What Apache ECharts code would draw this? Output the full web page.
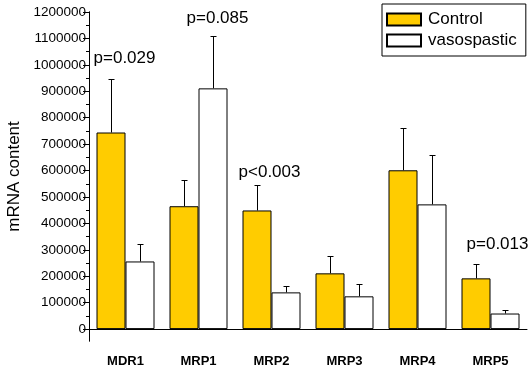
<!DOCTYPE html>
<html><head><meta charset="utf-8">
<script src="https://cdn.jsdelivr.net/npm/echarts@6/dist/echarts.min.js"></script>
<style>html,body{margin:0;padding:0;background:#fff}#c{width:532px;height:369px}</style>
</head><body><div id="c"></div>
<script>
const categories = ['MDR1', 'MRP1', 'MRP2', 'MRP3', 'MRP4', 'MRP5'];
const control = [744000, 465000, 449000, 211000, 601000, 192000];
const controlUpper = [945000, 563000, 544000, 275000, 760000, 245000];
const vaso = [256000, 911000, 139000, 124000, 472000, 59000];
const vasoUpper = [323000, 1108000, 165000, 169000, 659000, 71000];
const yTicks = [0, 100000, 200000, 300000, 400000, 500000, 600000, 700000, 800000, 900000, 1000000, 1100000, 1200000];
const yMinorTicks = [50000, 150000, 250000, 350000, 450000, 550000, 650000, 750000, 850000, 950000, 1050000, 1150000];
const pLabels = ['p=0.029', 'p=0.085', 'p<0.003', 'p=0.013'];
const pCats = ['MDR1', 'MRP1', 'MRP2', 'MRP5'];
const pValues = [1025000, 1177000, 594000, 322000];

const FONT = 'Liberation Sans, Arial, sans-serif';
const BAR_W = 29;
const pDx = [-1, 19, -2, 7];

const chart = echarts.init(document.getElementById('c'), null, {renderer: 'canvas'});

function errSeries(name, upper, base, offset) {
  return {
    type: 'custom', name: name + ' err', z: 1, silent: true,
    data: categories.map((c, i) => [i, base[i], upper[i]]),
    renderItem: function (params, api) {
      const p0 = api.coord([api.value(0), api.value(1)]);
      const p1 = api.coord([api.value(0), api.value(2)]);
      const x = Math.round(p0[0] + offset) + 0.5;
      const style = {stroke: '#000', lineWidth: 1};
      return {type: 'group', children: [
        {type: 'line', shape: {x1: x, y1: p0[1], x2: x, y2: Math.round(p1[1]) + 0.5}, style: style},
        {type: 'line', shape: {x1: x - 3, y1: Math.round(p1[1]) + 0.5, x2: x + 3, y2: Math.round(p1[1]) + 0.5}, style: style}
      ]};
    }
  };
}

const option = {
  animation: false,
  backgroundColor: '#fff',
  grid: {left: 89, right: 5, top: 12, bottom: 28, containLabel: false, outerBoundsMode: 'none'},
  legend: {
    orient: 'vertical', left: 382, top: 4,
    data: ['Control', 'vasospastic'],
    itemWidth: 34, itemHeight: 12, itemGap: 4,
    padding: [7, 9, 7, 4],
    borderColor: '#000', borderWidth: 1, borderRadius: 0,
    icon: 'rect',
    textStyle: {fontFamily: FONT, fontSize: 17, color: '#000', padding: [0, 0, 0, 2]}
  },
  xAxis: {
    type: 'category', data: categories,
    axisLine: {lineStyle: {color: '#000', width: 1}},
    axisTick: {show: false},
    axisLabel: {fontFamily: FONT, fontSize: 13, fontWeight: 'bold', color: '#000', margin: 14}
  },
  yAxis: [{
    type: 'value', min: -45000, max: 1200000,
    name: 'mRNA content', nameLocation: 'middle', nameRotate: 90, nameGap: 66,
    nameTextStyle: {fontFamily: FONT, fontSize: 17, color: '#000'},
    axisLine: {show: true, lineStyle: {color: '#000', width: 1}},
    axisTick: {show: true, length: 6, customValues: yTicks, lineStyle: {color: '#000'}},
    axisLabel: {customValues: yTicks, formatter: v => String(v), fontFamily: FONT, fontSize: 13.5, color: '#000', margin: 3},
    splitLine: {show: false}
  }, {
    type: 'value', min: -45000, max: 1200000, position: 'left',
    axisLine: {show: true, lineStyle: {color: '#000', width: 1}},
    axisTick: {show: true, length: 3, customValues: yMinorTicks, lineStyle: {color: '#000'}},
    axisLabel: {show: false},
    splitLine: {show: false}
  }],
  series: [
    {name: 'Control', type: 'bar', data: control, barWidth: BAR_W, barGap: '0%', z: 2,
     itemStyle: {color: '#FFCC00', borderColor: '#000', borderWidth: 1}},
    {name: 'vasospastic', type: 'bar', data: vaso, barWidth: BAR_W, barGap: '0%', z: 2,
     itemStyle: {color: '#FFFFFF', borderColor: '#000', borderWidth: 1}},
    errSeries('Control', controlUpper, control, -BAR_W / 2),
    errSeries('vasospastic', vasoUpper, vaso, BAR_W / 2),
    {
      type: 'custom', name: 'p', silent: true, z: 3,
      data: pLabels.map((t, i) => [categories.indexOf(pCats[i]), pValues[i], i]),
      renderItem: function (params, api) {
        const i = api.value(2);
        const p = api.coord([api.value(0), api.value(1)]);
        return {type: 'text', x: p[0] + pDx[i], y: p[1],
          style: {text: pLabels[i], fontFamily: FONT, fontSize: 17, fill: '#000', align: 'center', verticalAlign: 'middle'}};
      }
    }
  ]
};
chart.setOption(option);
</script></body></html>
